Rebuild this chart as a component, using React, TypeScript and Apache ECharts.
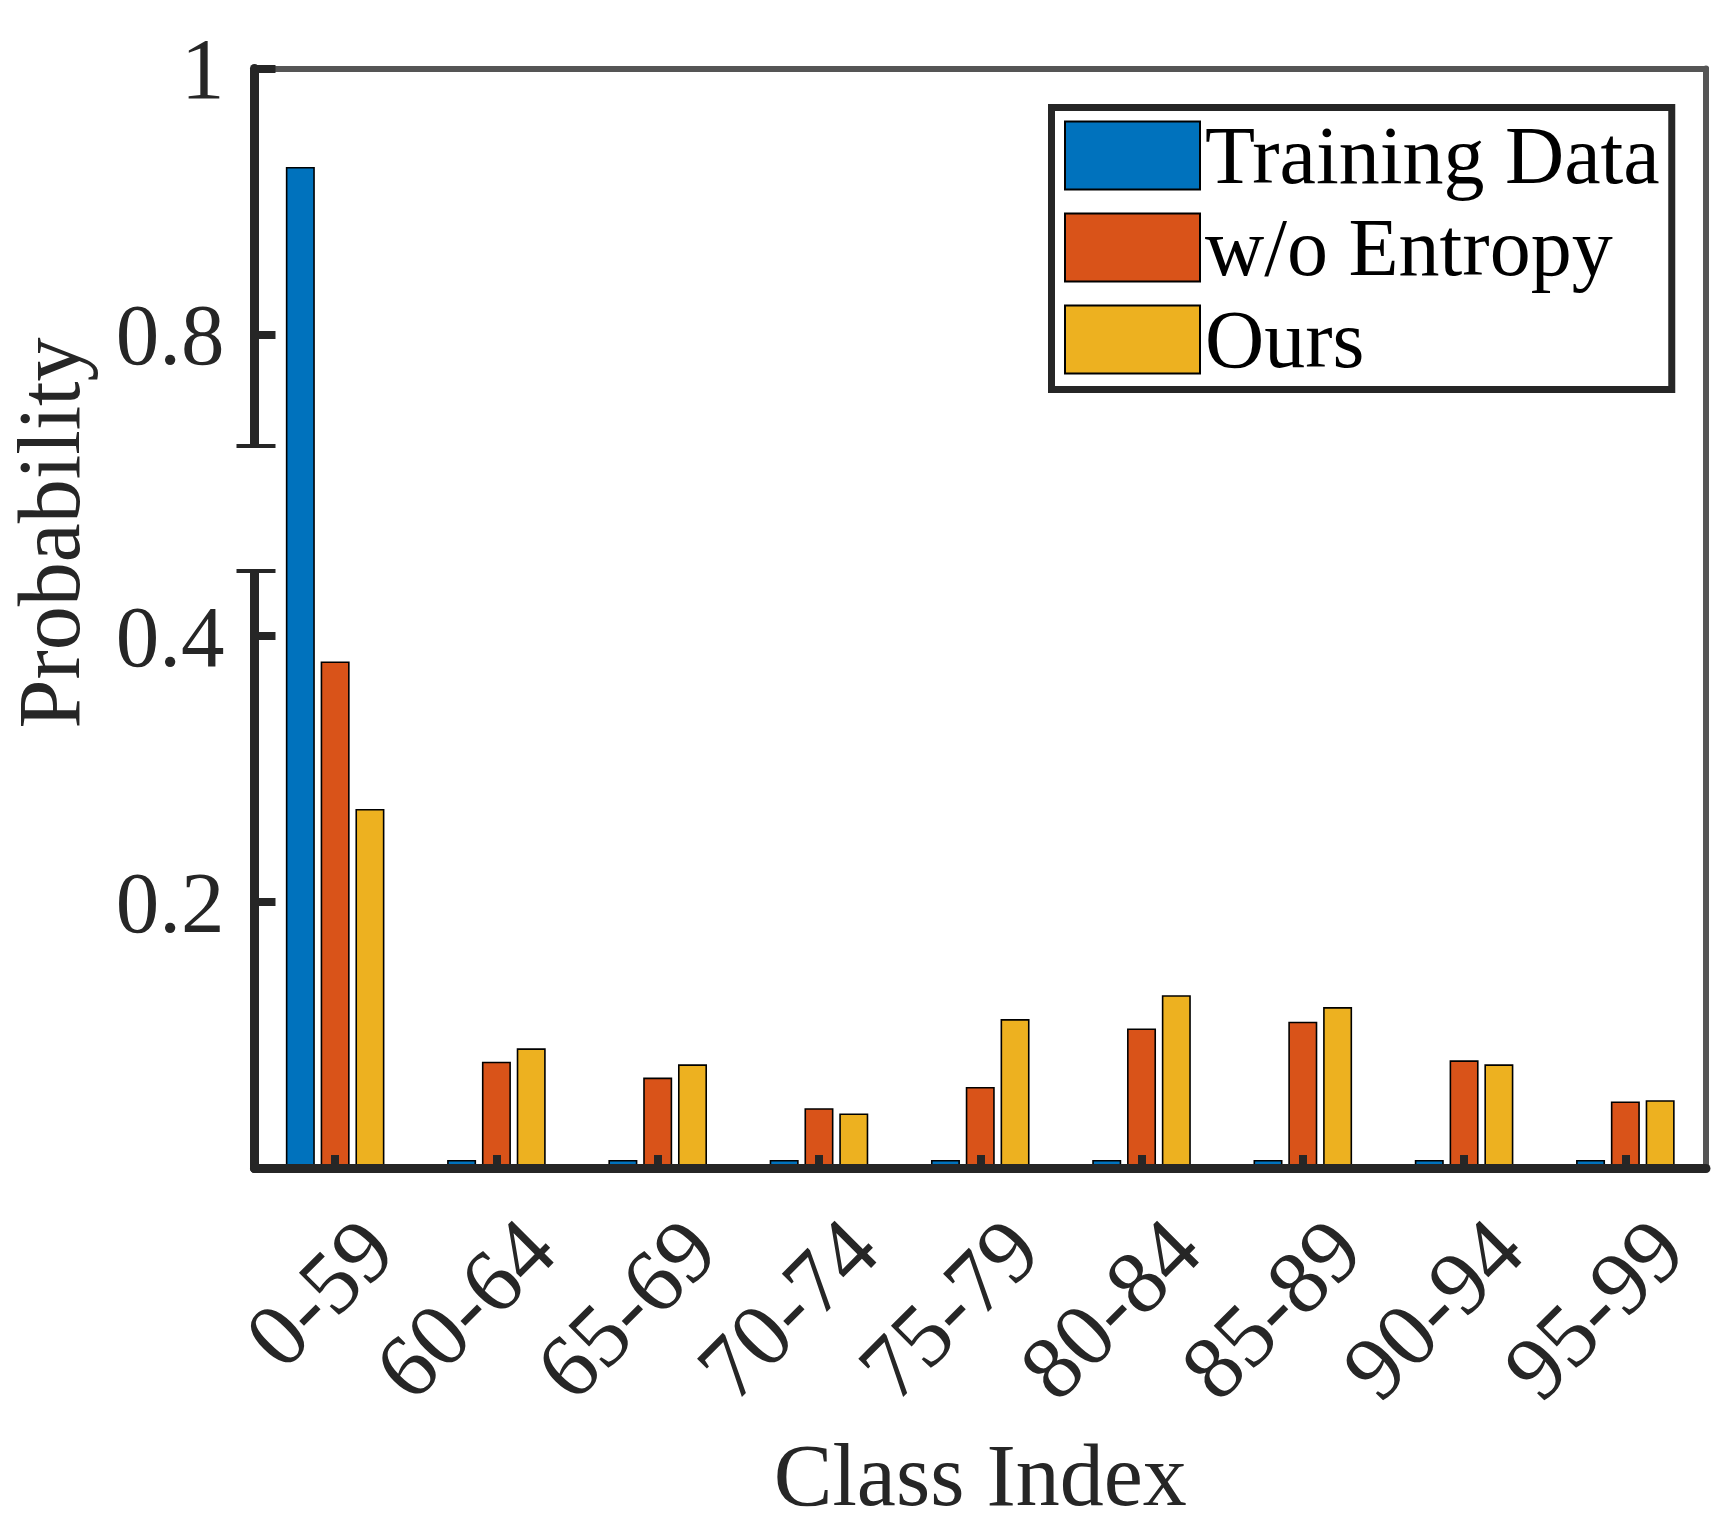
import React, { useEffect, useRef } from 'react';
import * as echarts from 'echarts';

const categories = ['0-59', '60-64', '65-69', '70-74', '75-79', '80-84', '85-89', '90-94', '95-99'];
const seriesNames = ['Training Data', 'w/o Entropy', 'Ours'];
const trainingData = [0.926, 0.006, 0.006, 0.006, 0.006, 0.006, 0.006, 0.006, 0.006];
const woEntropy = [0.381, 0.080, 0.068, 0.045, 0.061, 0.105, 0.110, 0.081, 0.050];
const ours = [0.270, 0.090, 0.078, 0.041, 0.112, 0.130, 0.121, 0.078, 0.051];
const yTickValues = [0.2, 0.4, 0.8, 1];
const breakStart = 0.449;
const breakEnd = 0.716;
const seriesColors = ['#0072BD', '#D95319', '#EDB120'];

export default function App() {
  const ref = useRef<HTMLDivElement>(null);
  useEffect(() => {
    const chart = echarts.init(ref.current as HTMLDivElement, null, { renderer: 'svg' });
    const FONT = '"Liberation Serif", "Times New Roman", serif';
    const INK = '#262626';
    const FRAME = '#555555';
    const gridLeft = 254.5;
    const seriesData = [trainingData, woEntropy, ours];

    const option: any = {
      animation: false,
      backgroundColor: '#ffffff',
      grid: { left: gridLeft, right: 30, top: 68.5, bottom: 362 },
      legend: {
        orient: 'vertical',
        left: 1051.5,
        top: 107.5,
        itemWidth: 135,
        itemHeight: 68,
        itemGap: 10,
        padding: [7, 12, 9, 12.5],
        borderColor: INK,
        borderWidth: 7,
        backgroundColor: '#ffffff',
        icon: 'rect',
        textStyle: { fontSize: 82, fontFamily: FONT, color: '#000000' },
        data: seriesNames,
      },
      xAxis: [
        {
          type: 'category',
          data: categories,
          position: 'bottom',
          z: 10,
          axisLine: { show: true, onZero: false, lineStyle: { color: INK, width: 9 } },
          axisTick: { show: true, inside: true, alignWithLabel: true, length: 13, lineStyle: { color: INK, width: 8 } },
          axisLabel: {
            interval: 0,
            rotate: 45,
            align: 'right',
            verticalAlign: 'top',
            margin: 24,
            padding: [15, 0, 0, 0],
            fontSize: 90,
            fontFamily: FONT,
            color: INK,
          },
          splitLine: { show: false },
          name: 'Class Index',
          nameLocation: 'middle',
          nameGap: 263,
          nameTextStyle: { fontSize: 88, fontFamily: FONT, color: INK },
        },
        {
          type: 'category',
          data: categories,
          position: 'top',
          axisLine: { show: true, onZero: false, lineStyle: { color: FRAME, width: 6 } },
          axisTick: { show: false },
          axisLabel: { show: false },
          splitLine: { show: false },
        },
      ],
      yAxis: [
        {
          type: 'value',
          min: 0,
          max: 1,
          position: 'left',
          z: 10,
          breaks: [{ start: breakStart, end: breakEnd, gap: '11.36%' }],
          breakArea: {
            show: false,
            expandOnClick: false,
            zigzagAmplitude: 0,
            itemStyle: { color: 'rgba(0,0,0,0)', borderWidth: 0, opacity: 0 },
          },
          axisLine: { show: true, onZero: false, lineStyle: { color: INK, width: 9 } },
          axisTick: { show: true, inside: true, length: 21, customValues: yTickValues, lineStyle: { color: INK, width: 8 } },
          axisLabel: {
            customValues: yTickValues,
            margin: 30,
            fontSize: 87,
            fontFamily: FONT,
            color: INK,
            formatter: (v: number) => String(v),
          },
          splitLine: { show: false },
        },
        {
          type: 'value',
          min: 0,
          max: 1,
          position: 'right',
          axisLine: { show: true, onZero: false, lineStyle: { color: FRAME, width: 6 } },
          axisTick: { show: false },
          axisLabel: { show: false },
          splitLine: { show: false },
        },
      ],
      series: seriesNames.map((name, i) => ({
        type: 'bar',
        name,
        data: seriesData[i],
        xAxisIndex: 0,
        yAxisIndex: 0,
        barWidth: 29,
        barGap: '20%',
        itemStyle: { color: seriesColors[i], borderColor: '#000000', borderWidth: 1.6 },
      })),
    };
    chart.setOption(option);

    const yUpper = chart.convertToPixel({ yAxisIndex: 0 }, breakEnd) as unknown as number;
    const yLower = chart.convertToPixel({ yAxisIndex: 0 }, breakStart) as unknown as number;

    chart.setOption({
      graphic: [
        {
          type: 'rect',
          z: 100,
          shape: { x: gridLeft - 8, y: yUpper + 2, width: 16, height: yLower - yUpper - 4 },
          style: { fill: '#ffffff' },
        },
        {
          type: 'line',
          z: 101,
          shape: { x1: gridLeft - 18, y1: yUpper, x2: gridLeft + 21, y2: yUpper },
          style: { stroke: INK, lineWidth: 4 },
        },
        {
          type: 'line',
          z: 101,
          shape: { x1: gridLeft - 18, y1: yLower, x2: gridLeft + 21, y2: yLower },
          style: { stroke: INK, lineWidth: 4 },
        },
        {
          type: 'text',
          z: 101,
          x: 49,
          y: 533,
          rotation: Math.PI / 2,
          style: {
            text: 'Probability',
            fontSize: 88,
            fontFamily: FONT,
            fill: INK,
            align: 'center',
            verticalAlign: 'middle',
          },
        },
      ],
    });

    return () => chart.dispose();
  }, []);
  return <div ref={ref} style={{ position: 'absolute', left: 0, top: 0, width: 1736, height: 1530 }} />;
}
